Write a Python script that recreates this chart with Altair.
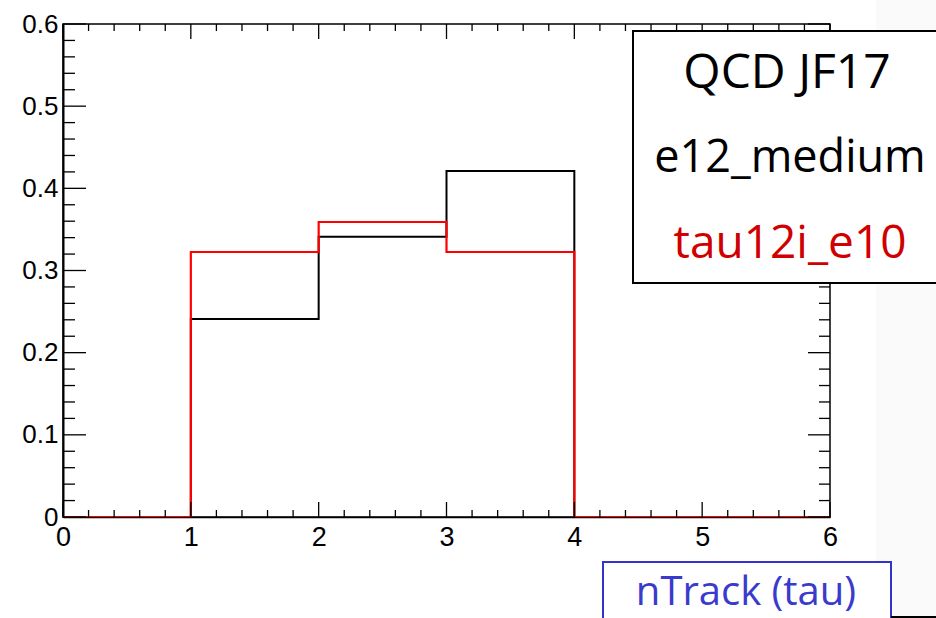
import altair as alt
import pandas as pd

# ---- data ----
bin_edges = [0, 1, 2, 3, 4, 5, 6]
black_vals = [0.0, 0.241, 0.341, 0.421, 0.0, 0.0]   # e12_medium
red_vals = [0.0, 0.3225, 0.359, 0.3225, 0.0, 0.0]   # tau12i_e10
x_major = [0, 1, 2, 3, 4, 5, 6]
y_major = [0.0, 0.1, 0.2, 0.3, 0.4, 0.5, 0.6]
legend_title = "QCD JF17"
legend_labels = ["e12_medium", "tau12i_e10"]
x_title = "nTrack (tau)"

x_minor = [round(a + k * 0.2, 3) for a in x_major[:-1] for k in range(1, 5)]
y_minor = [round(a + k * 0.02, 3) for a in y_major[:-1] for k in range(1, 5)]

W, H = 767, 493

def step_df(vals):
    return pd.DataFrame({"x": bin_edges, "y": vals + [vals[-1]]})

xs = alt.Scale(domain=[0, 6], nice=False, zero=False)
ys = alt.Scale(domain=[0, 0.6], nice=False, zero=False)

dummy = pd.DataFrame({"a": [0]})

bg = alt.Chart(dummy).mark_rect(fill="#fafafa", stroke=None).encode(
    x=alt.value(813), x2=alt.value(880), y=alt.value(-24), y2=alt.value(600))

black_line = alt.Chart(step_df(black_vals)).mark_line(
    interpolate="step-after", color="black", strokeWidth=2, clip=True).encode(
    x=alt.X("x:Q", scale=xs,
            axis=alt.Axis(values=x_major, ticks=False, grid=False, title=None,
                          format="d",
                          labelFont="Liberation Sans", labelFontSize=27,
                          labelColor="black", labelPadding=7,
                          labelOverlap=False, labelFlush=False, labelBound=False,
                          domainColor="black", domainWidth=1.5)),
    y=alt.Y("y:Q", scale=ys,
            axis=alt.Axis(values=y_major, ticks=False, grid=False, title=None,
                          labelFont="Liberation Sans", labelFontSize=26,
                          labelColor="black", labelPadding=5,
                          labelExpr="datum.value == 0 ? '0' : format(datum.value, '.1f')",
                          labelOverlap=False, labelFlush=False, labelBound=False,
                          domainColor="black", domainWidth=2)),
)

red_line = alt.Chart(step_df(red_vals)).mark_line(
    interpolate="step-after", color="#ff0000", strokeWidth=2.2, clip=True).encode(
    x=alt.X("x:Q", scale=xs), y=alt.Y("y:Q", scale=ys))

def xticks(vals, length, top):
    df = pd.DataFrame({"v": vals})
    if top:
        yy, yy2 = alt.value(0), alt.value(length)
    else:
        yy, yy2 = alt.value(H), alt.value(H - length)
    return alt.Chart(df).mark_rule(color="black", strokeWidth=1.3).encode(
        x=alt.X("v:Q", scale=xs), y=yy, y2=yy2)

def yticks(vals, length, right):
    df = pd.DataFrame({"v": vals})
    if right:
        xx, xx2 = alt.value(W), alt.value(W - length)
    else:
        xx, xx2 = alt.value(0), alt.value(length)
    return alt.Chart(df).mark_rule(color="black", strokeWidth=1.3).encode(
        y=alt.Y("v:Q", scale=ys), x=xx, x2=xx2)

ticks = [
    xticks(x_major, 15, False), xticks(x_minor, 7, False),
    xticks(x_major, 15, True), xticks(x_minor, 7, True),
    yticks(y_major, 23, False), yticks(y_minor, 12, False),
    yticks(y_major, 22, True), yticks(y_minor, 11, True),
]

legend_box = alt.Chart(dummy).mark_rect(fill="white", stroke="black", strokeWidth=2).encode(
    x=alt.value(570), x2=alt.value(885), y=alt.value(7), y2=alt.value(259))

FONT = "Open Sans"
t1 = alt.Chart(dummy).mark_text(font=FONT, fontSize=48, color="black",
                                align="center", baseline="alphabetic").encode(
    x=alt.value(724), y=alt.value(64), text=alt.value(legend_title))
t2 = alt.Chart(dummy).mark_text(font=FONT, fontSize=45, color="black",
                                align="center", baseline="alphabetic").encode(
    x=alt.value(727), y=alt.value(148), text=alt.value(legend_labels[0]))
t3 = alt.Chart(dummy).mark_text(font=FONT, fontSize=46, color="#d00000",
                                align="center", baseline="alphabetic").encode(
    x=alt.value(727), y=alt.value(234), text=alt.value(legend_labels[1]))

xbox = alt.Chart(dummy).mark_rect(fill="white", stroke="#3333cc", strokeWidth=2).encode(
    x=alt.value(540), x2=alt.value(828), y=alt.value(538), y2=alt.value(600))
xline = alt.Chart(dummy).mark_rule(color="black", strokeWidth=2).encode(
    x=alt.value(828), x2=alt.value(880), y=alt.value(593))
xt = alt.Chart(dummy).mark_text(font=FONT, fontSize=40, color="#3a3acc",
                                align="center", baseline="alphabetic").encode(
    x=alt.value(683), y=alt.value(581), text=alt.value(x_title))

chart = alt.layer(
    bg, black_line, red_line, *ticks, legend_box, t1, t2, t3, xbox, xline, xt
).properties(
    width=W, height=H,
    autosize=alt.AutoSizeParams(type="none"),
    padding={"left": 63, "top": 24, "right": 106, "bottom": 101},
    background="white",
).configure_view(stroke="black", strokeWidth=1.5)

chart.save("out.html", embed_options={"renderer": "svg", "actions": False})
